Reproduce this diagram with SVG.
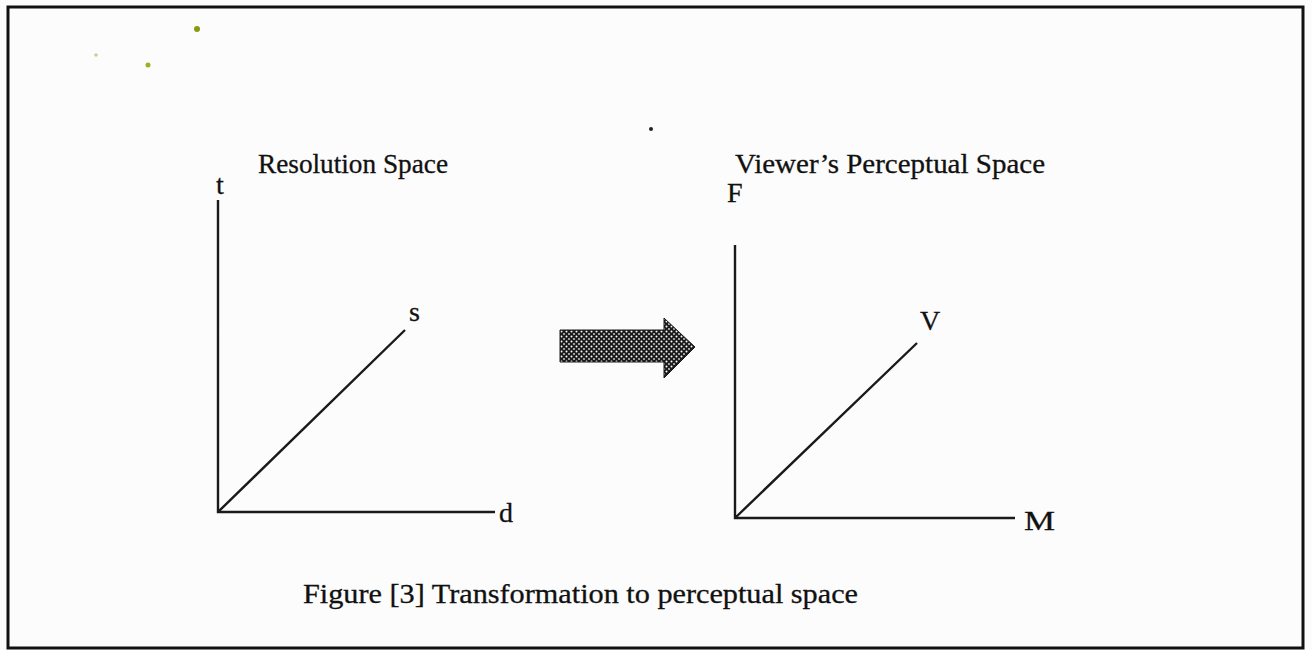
<svg xmlns="http://www.w3.org/2000/svg" width="1312" height="650" viewBox="0 0 1312 650">
<style>
.t{font-family:"Liberation Serif","Times New Roman",serif;fill:#111;font-size:27px;stroke:#111;stroke-width:0.3;}
.l{font-size:28px;}
.ax{stroke:#1a1a1a;stroke-width:2.4;fill:none;}
</style>
<defs>
<pattern id="dots" width="5" height="5" patternUnits="userSpaceOnUse">
<rect width="5" height="5" fill="#1a1a1a"/>
<circle cx="1.5" cy="1.5" r="1" fill="#fff"/>
<circle cx="4" cy="4" r="0.9" fill="#ddd"/>
</pattern>
</defs>
<rect width="1312" height="650" fill="#fcfcfc"/>
<rect id="frame" x="8" y="7" width="1295" height="641" fill="none" stroke="#111" stroke-width="3"/>
<g id="specks">
<circle cx="197" cy="29" r="3" fill="#8a9a10"/>
<circle cx="148" cy="65" r="2.5" fill="#a0b020"/>
<circle cx="96" cy="55" r="1.8" fill="#c8d090"/>
<circle cx="651" cy="129" r="2" fill="#222"/>
</g>
<g id="resolution-space">
<text class="t" x="258" y="173" textLength="190" lengthAdjust="spacingAndGlyphs">Resolution Space</text>
<text class="t l" x="216" y="194">t</text>
<text class="t l" x="409" y="321">s</text>
<text class="t l" x="499" y="522">d</text>
</g>
<g id="perceptual-space">
<text class="t" x="735" y="173" textLength="310" lengthAdjust="spacingAndGlyphs">Viewer’s Perceptual Space</text>
<text class="t l" x="727" y="202">F</text>
<text class="t l" x="920" y="330">V</text>
<text class="t l" x="1024" y="530" textLength="31" lengthAdjust="spacingAndGlyphs">M</text>
</g>
<g id="connectors">
<path class="ax" d="M218,200 V512 H495 M218,512 L405,330"/>
<path class="ax" d="M735,245 V518 H1015 M735,518 L917,343"/>
</g>
<g id="transform-arrow">
<path d="M560,330 H664 V318 L695,347 L664,378 V362 H560 Z" fill="url(#dots)" stroke="#1a1a1a" stroke-width="1"/>
</g>
<g id="caption">
<text class="t" x="303" y="603" textLength="555" lengthAdjust="spacingAndGlyphs">Figure [3] Transformation to perceptual space</text>
</g>
</svg>
